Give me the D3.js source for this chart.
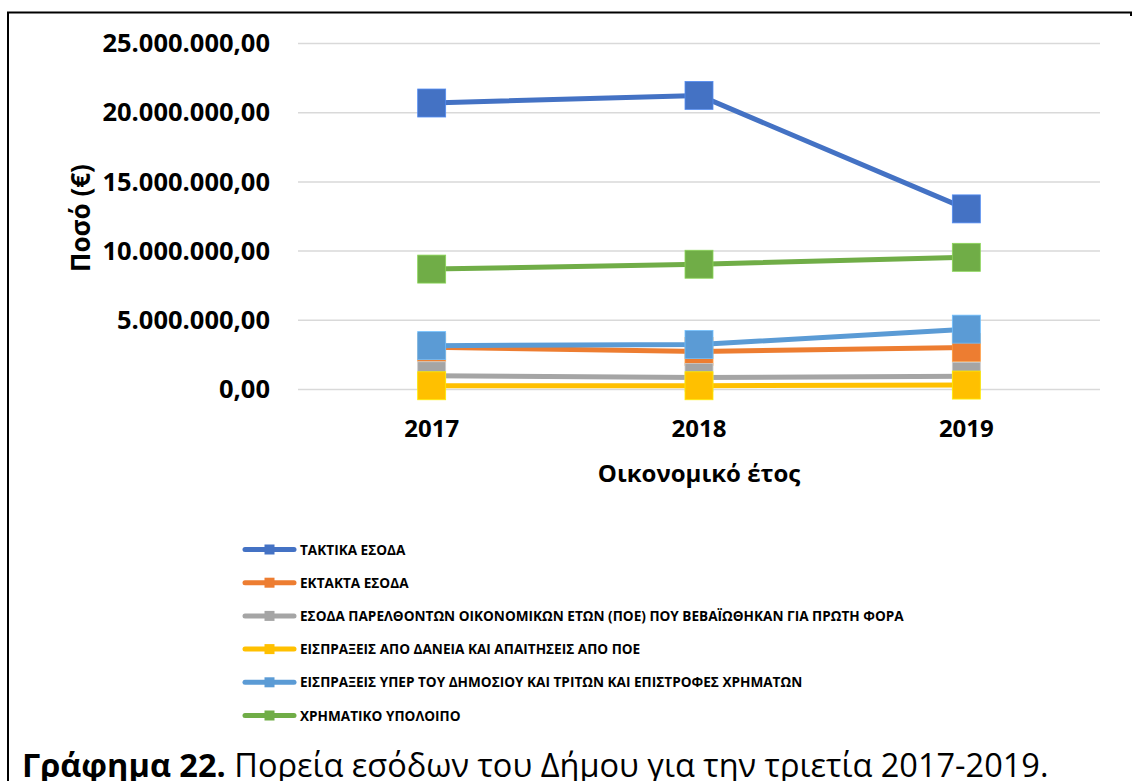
<!DOCTYPE html>
<html>
<head>
<meta charset="utf-8">
<script src="https://cdn.jsdelivr.net/npm/d3@7"></script>
<style>
  body { margin: 0; background: #fff; }
  svg { display: block; }
  text { font-family: "Open Sans", "Noto Sans", sans-serif; }
</style>
</head>
<body>
<div id="chart"></div>
<script>
// data
const years = ["2017", "2018", "2019"];
const seriesNames = [
  "ΤΑΚΤΙΚΑ ΕΣΟΔΑ",
  "ΕΚΤΑΚΤΑ ΕΣΟΔΑ",
  "ΕΣΟΔΑ ΠΑΡΕΛΘΟΝΤΩΝ ΟΙΚΟΝΟΜΙΚΩΝ ΕΤΩΝ (ΠΟΕ) ΠΟΥ ΒΕΒΑΪΩΘΗΚΑΝ ΓΙΑ ΠΡΩΤΗ ΦΟΡΑ",
  "ΕΙΣΠΡΑΞΕΙΣ ΑΠΟ ΔΑΝΕΙΑ ΚΑΙ ΑΠΑΙΤΗΣΕΙΣ ΑΠΟ ΠΟΕ",
  "ΕΙΣΠΡΑΞΕΙΣ ΥΠΕΡ ΤΟΥ ΔΗΜΟΣΙΟΥ ΚΑΙ ΤΡΙΤΩΝ ΚΑΙ ΕΠΙΣΤΡΟΦΕΣ ΧΡΗΜΑΤΩΝ",
  "ΧΡΗΜΑΤΙΚΟ ΥΠΟΛΟΙΠΟ"
];
const taktika = [20700000, 21250000, 13050000];
const ektakta = [3050000, 2750000, 3030000];
const poe = [990000, 860000, 960000];
const daneia = [270000, 270000, 320000];
const yperDimosiou = [3170000, 3250000, 4360000];
const ypoloipo = [8700000, 9050000, 9550000];
const seriesValues = [taktika, ektakta, poe, daneia, yperDimosiou, ypoloipo];
const colors = ["#4472C4", "#ED7D31", "#A5A5A5", "#FFC000", "#5B9BD5", "#70AD47"];
const yTicks = [0, 5000000, 10000000, 15000000, 20000000, 25000000];

const W = 1132, H = 781;
const svg = d3.select("#chart").append("svg")
  .attr("width", W).attr("height", H);

// outer frame (top and left edges visible)
svg.append("path")
  .attr("d", `M8,${H} L8,12.5 L1131,12.5 L1131,16`)
  .attr("fill", "none").attr("stroke", "#000").attr("stroke-width", 2);

const x = d3.scaleBand().domain(years).range([298, 1100]);
const y = d3.scaleLinear().domain([0, 25000000]).range([389.5, 43.5]);

const locale = d3.formatLocale({ decimal: ",", thousands: ".", grouping: [3], currency: ["", "€"] });
const fmt = locale.format(",.2f");

// gridlines
svg.append("g")
  .selectAll("line").data(yTicks).join("line")
  .attr("x1", 298).attr("x2", 1100)
  .attr("y1", d => y(d)).attr("y2", d => y(d))
  .attr("stroke", "#d9d9d9").attr("stroke-width", 1.5);

// y axis labels
const yAxis = svg.append("g").attr("transform", "translate(290,0)")
  .call(d3.axisLeft(y).tickValues(yTicks).tickFormat(fmt).tickSize(0).tickPadding(20));
yAxis.select(".domain").remove();
yAxis.selectAll("text")
  .attr("font-family", "'Open Sans', sans-serif")
  .attr("font-size", 25.5).attr("font-weight", "bold").attr("fill", "#000");

// x axis labels
const xAxis = svg.append("g").attr("transform", "translate(0,389.5)")
  .call(d3.axisBottom(x).tickSize(0).tickPadding(30));
xAxis.select(".domain").remove();
xAxis.selectAll("text")
  .attr("font-family", "'Open Sans', sans-serif")
  .attr("font-size", 24).attr("font-weight", "bold").attr("fill", "#000");

// axis titles
svg.append("text")
  .attr("transform", "translate(90,218) rotate(-90)")
  .attr("text-anchor", "middle")
  .attr("font-size", 26).attr("font-weight", "bold")
  .text("Ποσό (€)");
svg.append("text")
  .attr("x", 699).attr("y", 482)
  .attr("text-anchor", "middle")
  .attr("font-size", 24).attr("font-weight", "bold")
  .text("Οικονομικό έτος");

// lines + markers
const line = d3.line()
  .x((d, i) => x(years[i]) + x.bandwidth() / 2)
  .y(d => y(d));
const ms = 28;
seriesValues.forEach((vals, si) => {
  const g = svg.append("g");
  g.append("path")
    .attr("d", line(vals))
    .attr("fill", "none")
    .attr("stroke", colors[si])
    .attr("stroke-width", 5)
    .attr("stroke-linejoin", "round");
  g.selectAll("rect").data(vals).join("rect")
    .attr("x", (d, i) => x(years[i]) + x.bandwidth() / 2 - ms / 2)
    .attr("y", d => y(d) - ms / 2)
    .attr("width", ms).attr("height", ms)
    .attr("fill", colors[si])
    .attr("stroke", d3.color(colors[si]).brighter(0.6))
    .attr("stroke-width", 0.8);
});

// legend
const legY = d3.scalePoint().domain(seriesNames).range([549.5, 715.5]);
const leg = svg.append("g");
seriesNames.forEach((name, si) => {
  const row = leg.append("g").attr("transform", `translate(0,${legY(name)})`);
  row.append("line")
    .attr("x1", 245).attr("x2", 294)
    .attr("stroke", colors[si]).attr("stroke-width", 5)
    .attr("stroke-linecap", "round");
  row.append("rect")
    .attr("x", 264.5).attr("y", -5).attr("width", 10).attr("height", 10)
    .attr("fill", colors[si]);
  row.append("text")
    .attr("x", 300).attr("y", 5)
    .attr("font-size", 13.6).attr("font-weight", "bold")
    .text(name);
});

// caption
const cap = svg.append("text").attr("x", 22).attr("y", 777).attr("font-size", 32.5);
cap.append("tspan").attr("font-weight", "bold").text("Γράφημα 22.");
cap.append("tspan").text(" Πορεία εσόδων του Δήμου για την τριετία 2017-2019.");
</script>
</body>
</html>
